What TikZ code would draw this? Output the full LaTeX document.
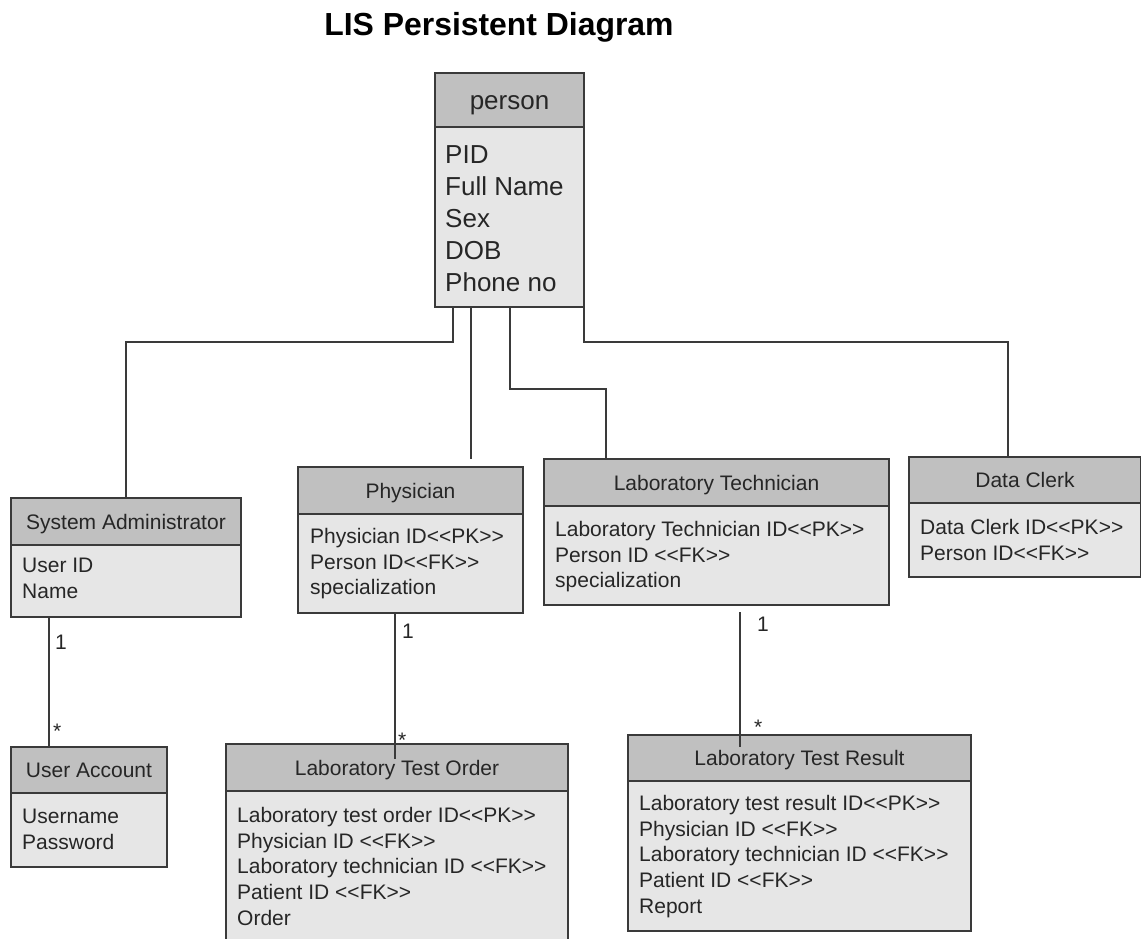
\documentclass[tikz,border=0pt]{standalone}
\usepackage{fontspec}
\setmainfont{Liberation Sans}[Ligatures=TeXOff]
\usepackage{tikz}
\usetikzlibrary{positioning}
\usetikzlibrary{calc}
\definecolor{headgray}{HTML}{C0C0C0}
\definecolor{bodygray}{HTML}{E6E6E6}
\definecolor{edgegray}{HTML}{3A3A3A}
\definecolor{inkgray}{HTML}{262626}
\tikzstyle{classhead} = [rectangle, draw=edgegray, line width=1.8pt, fill=headgray,
                         inner sep=0pt, outer sep=0pt, text=inkgray, anchor=north west,
                         minimum height=47pt, text height=15pt, text depth=0pt,
                         font=\fontsize{21}{25.7}\selectfont]
\tikzstyle{classbody} = [rectangle, draw=edgegray, line width=1.8pt, fill=bodygray,
                         inner sep=0pt, outer sep=0pt]
\tikzstyle{attrs}     = [inner sep=0pt, align=left, text=inkgray,
                         font=\fontsize{21}{25.7}\selectfont]
\tikzstyle{mult}      = [inner sep=0pt, text=inkgray, font=\fontsize{21}{25.7}\selectfont]
\tikzstyle{link}      = [draw=edgegray, line width=1.8pt]

\begin{document}
\begin{tikzpicture}[x=1pt, y=-1pt]
\clip (0,0) rectangle (1141,938);
\fill[white] (0,0) rectangle (1141,938);
\node (title) [anchor=base, font=\bfseries\fontsize{31.9}{38}\selectfont] at (499,35) {LIS Persistent Diagram};

\node (person) [classhead, minimum width=149pt, minimum height=54pt, text height=18.6pt,
                font=\fontsize{26}{32}\selectfont] at (435,73) {person};
\node (person body) [classbody, minimum width=149pt, minimum height=180pt, below=0pt of person] {};
\node (person attr) [attrs, font=\fontsize{26}{32}\selectfont, below right=18pt and 10pt of person.south west]
      {PID\\Full Name\\Sex\\DOB\\Phone no};

\node (sysadm) [classhead, minimum width=230pt] at (11,498) {System Administrator};
\node (sysadm body) [classbody, minimum width=230pt, minimum height=72pt, below=0pt of sysadm] {};
\node (sysadm attr) [attrs, below right=13pt and 11pt of sysadm.south west] {User ID\\Name};

\node (phys) [classhead, minimum width=225pt] at (298,467) {Physician};
\node (phys body) [classbody, minimum width=225pt, minimum height=99pt, below=0pt of phys] {};
\node (phys attr) [attrs, below right=14pt and 12pt of phys.south west]
      {Physician ID<<PK>>\\Person ID<<FK>>\\specialization};

\node (labtech) [classhead, minimum width=345pt] at (544,459) {Laboratory Technician};
\node (labtech body) [classbody, minimum width=345pt, minimum height=99pt, below=0pt of labtech] {};
\node (labtech attr) [attrs, below right=15pt and 11pt of labtech.south west]
      {Laboratory Technician ID<<PK>>\\Person ID <<FK>>\\specialization};

\node (clerk) [classhead, minimum width=232pt, minimum height=46pt] at (909,457) {Data Clerk};
\node (clerk body) [classbody, minimum width=232pt, minimum height=74pt, below=0pt of clerk] {};
\node (clerk attr) [attrs, below right=16pt and 11pt of clerk.south west]
      {Data Clerk ID<<PK>>\\Person ID<<FK>>};

\node (useracc) [classhead, minimum width=156pt, minimum height=46pt] at (11,747) {User Account};
\node (useracc body) [classbody, minimum width=156pt, minimum height=74pt, below=0pt of useracc] {};
\node (useracc attr) [attrs, below right=16pt and 11pt of useracc.south west] {Username\\Password};

\node (lto) [classhead, minimum width=342pt] at (226,744) {Laboratory Test Order};
\node (lto body) [classbody, minimum width=342pt, minimum height=190pt, below=0pt of lto] {};
\node (lto attr) [attrs, below right=16pt and 11pt of lto.south west]
      {Laboratory test order ID<<PK>>\\Physician ID <<FK>>\\Laboratory technician ID <<FK>>\\Patient ID <<FK>>\\Order};

\node (ltr) [classhead, minimum width=343pt, minimum height=46pt] at (628,735) {Laboratory Test Result};
\node (ltr body) [classbody, minimum width=343pt, minimum height=150pt, below=0pt of ltr] {};
\node (ltr attr) [attrs, below right=14pt and 11pt of ltr.south west]
      {Laboratory test result ID<<PK>>\\Physician ID <<FK>>\\Laboratory technician ID <<FK>>\\Patient ID <<FK>>\\Report};

\draw [link] ($(person body.south west)+(18,0)$) -- ++(0,35) -| (sysadm.north);
\draw [link] ($(person body.south west)+(36,0)$) -- ($(phys.north west)+(173,-8)$);
\draw [link] ($(person body.south west)+(75,0)$) -- ++(0,82) -| ($(labtech.north west)+(62,0)$);
\draw [link] (person body.south east) -- ++(0,35) -| ($(clerk.north west)+(99,0)$);
\draw [link] ($(sysadm body.south west)+(38,0)$) -- ($(useracc.north west)+(38,0)$);
\draw [link] ($(phys body.south west)+(97,0)$) -- ($(lto.north west)+(169,15)$);
\draw [link] ($(labtech body.south west)+(196,7)$) -- ($(ltr.north west)+(112,12)$);

\node (sysadm one) [mult, below right=18pt and 44pt of sysadm body.south west] {1};
\node (useracc many) [mult, above right=23pt and 42pt of useracc.north west, anchor=north west] {*};
\node (phys one) [mult, below right=11pt and 104pt of phys body.south west] {1};
\node (lto many) [mult, above right=11pt and 172pt of lto.north west, anchor=north west] {*};
\node (labtech one) [mult, below right=12pt and 213pt of labtech body.south west] {1};
\node (ltr many) [mult, above right=15pt and 126pt of ltr.north west, anchor=north west] {*};
\end{tikzpicture}
\end{document}
